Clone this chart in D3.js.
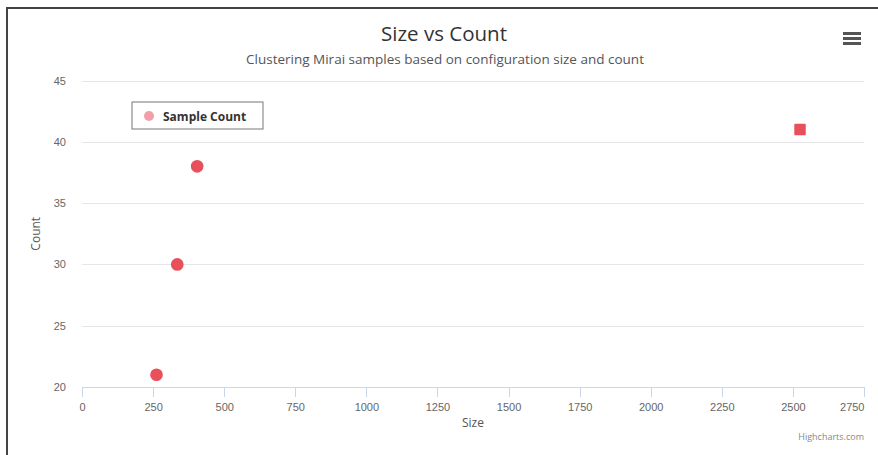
<!DOCTYPE html>
<html>
<head>
  <meta charset="utf-8">
  <style>
    body { margin: 0; background: #fff; font-family: "Open Sans", "DejaVu Sans", sans-serif; }
    svg { display: block; }
    .grid line { stroke: #e6e6e6; shape-rendering: crispEdges; }
    .grid path { display: none; }
    .xaxis path, .xaxis line { stroke: #ccd6eb; shape-rendering: crispEdges; }
    .tick text { fill: #666; font-size: 11px; }
  </style>
</head>
<body>
  <svg width="878" height="455"></svg>
  <script src="https://d3js.org/d3.v7.min.js"></script>
  <script>
    // data
    var sizes = [262, 335, 405, 2525];
    var counts = [21, 30, 38, 41];
    var markers = ["circle", "circle", "circle", "square"];
    var xTicks = [0, 250, 500, 750, 1000, 1250, 1500, 1750, 2000, 2250, 2500, 2750];
    var yTicks = [20, 25, 30, 35, 40, 45];
    var seriesName = "Sample Count";

    var svg = d3.select("svg");
    var x0 = 82, x1 = 864, yTop = 80.5, yBot = 387;

    // frame
    svg.append("path")
      .attr("d", "M7,455 V8 H878")
      .attr("fill", "none")
      .attr("stroke", "#444")
      .attr("stroke-width", 2);

    var x = d3.scaleLinear().domain([0, 2750]).range([x0, x1]);
    var y = d3.scaleLinear().domain([20, 45]).range([yBot, yTop]);

    // title
    svg.append("text")
      .attr("x", 444).attr("y", 41)
      .attr("text-anchor", "middle")
      .attr("font-size", 20.5)
      .attr("fill", "#333")
      .text("Size vs Count");

    svg.append("text")
      .attr("x", 445).attr("y", 64)
      .attr("text-anchor", "middle")
      .attr("font-size", 13.5)
      .attr("fill", "#555")
      .text("Clustering Mirai samples based on configuration size and count");

    // menu icon
    svg.append("g").selectAll("rect")
      .data([0, 1, 2])
      .enter().append("rect")
      .attr("x", 843).attr("y", function(d) { return 32 + d * 5; })
      .attr("width", 18).attr("height", 3)
      .attr("fill", "#555");

    // grid + y labels
    var gy = svg.append("g")
      .attr("class", "grid")
      .attr("transform", "translate(" + x0 + ",0)")
      .call(d3.axisLeft(y).tickValues(yTicks).tickSize(-(x1 - x0)).tickPadding(16));
    gy.selectAll(".tick line").attr("x1", 0);
    gy.select(".domain").remove();

    // x axis
    var gx = svg.append("g")
      .attr("class", "xaxis")
      .attr("transform", "translate(0," + yBot + ")")
      .call(d3.axisBottom(x).tickValues(xTicks).tickFormat(d3.format("d")).tickSizeOuter(0).tickSize(10).tickPadding(4));
    gx.selectAll(".tick text").attr("dy", "0.9em");
    // last label kept inside the plot, as highcharts does
    gx.selectAll(".tick text").filter(function(d) { return d === xTicks[xTicks.length - 1]; })
      .attr("text-anchor", "end");

    // axis titles
    svg.append("text")
      .attr("transform", "translate(40," + ((yTop + yBot) / 2) + ") rotate(-90)")
      .attr("text-anchor", "middle")
      .attr("font-size", 12)
      .attr("fill", "#555")
      .text("Count");

    svg.append("text")
      .attr("x", (x0 + x1) / 2).attr("y", 427)
      .attr("text-anchor", "middle")
      .attr("font-size", 12)
      .attr("fill", "#555")
      .text("Size");

    // credits
    svg.append("text")
      .attr("x", 864).attr("y", 440)
      .attr("text-anchor", "end")
      .attr("font-size", 9)
      .attr("fill", "#888")
      .text("Highcharts.com");

    // points
    var sym = { circle: d3.symbolCircle, square: d3.symbolSquare };
    svg.append("g").selectAll("path")
      .data(sizes.map(function(s, i) { return { s: s, c: counts[i], m: markers[i] }; }))
      .enter().append("path")
      .attr("transform", function(d) { return "translate(" + x(d.s) + "," + y(d.c) + ")"; })
      .attr("d", function(d) { return d3.symbol().type(sym[d.m]).size(d.m === "square" ? 90 : 90)(); })
      .attr("fill", "#e8505b")
      .attr("stroke", "#e8505b")
      .attr("stroke-width", 2)
      .attr("stroke-linejoin", "round");

    // legend
    var lg = svg.append("g").attr("transform", "translate(132,102)");
    lg.append("rect")
      .attr("width", 131).attr("height", 27)
      .attr("fill", "#fff")
      .attr("stroke", "#777")
      .attr("stroke-width", 1);
    lg.append("circle")
      .attr("cx", 17).attr("cy", 14).attr("r", 5)
      .attr("fill", "#f0a0a6");
    lg.append("text")
      .attr("x", 31).attr("y", 18.5)
      .attr("font-size", 12)
      .attr("font-weight", "bold")
      .attr("fill", "#333")
      .text(seriesName);
  </script>
</body>
</html>
